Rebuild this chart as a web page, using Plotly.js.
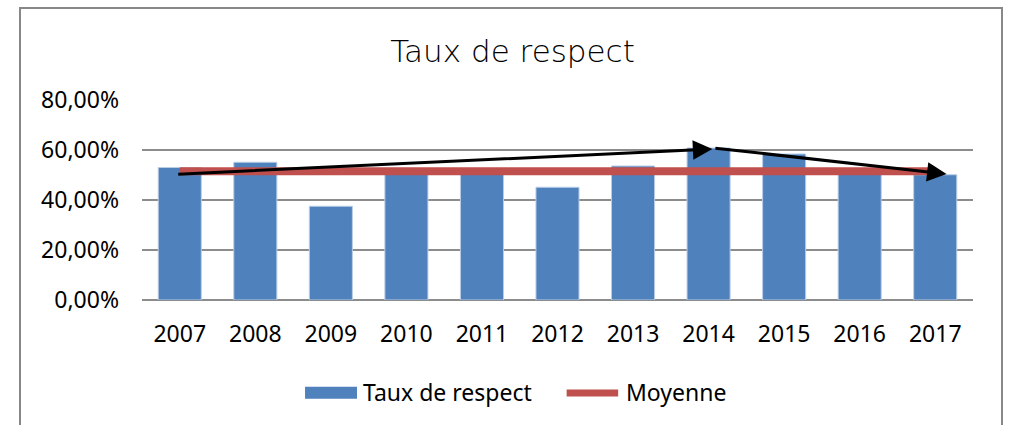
<!DOCTYPE html>
<html>
<head>
<meta charset="utf-8">
<script src="https://cdn.plot.ly/plotly-3.0.1.min.js"></script>
<style>html,body{margin:0;padding:0;background:#fff;}#chart{width:1009px;height:425px;}</style>
</head>
<body>
<div id="chart"></div>
<script>
// ---- data ----
const years = ['2007','2008','2009','2010','2011','2012','2013','2014','2015','2016','2017'];
const tauxRespect = [0.530, 0.551, 0.375, 0.515, 0.515, 0.451, 0.536, 0.608, 0.584, 0.515, 0.501];
const moyenne = [0.515, 0.515, 0.515, 0.515, 0.515, 0.515, 0.515, 0.515, 0.515, 0.515, 0.515];
const yTicks = [0, 0.2, 0.4, 0.6, 0.8];
const seriesNames = ['Taux de respect', 'Moyenne'];
const chartTitle = 'Taux de respect';
// hand-drawn trend arrows: [startIndex, startValue, endIndex, endValue]
const arrowStartsX = [-0.04, 7.07];
const arrowStartsY = [0.503, 0.608];
const arrowEndsX = [7.05, 10.15];
const arrowEndsY = [0.604, 0.504];

const barColor = '#4F81BD';
const lineColor = '#C0504D';
const tickFont = {family: 'Noto Sans, Open Sans, sans-serif', size: 23, color: '#000'};

const traces = [
  {
    type: 'bar', x: years, y: tauxRespect, name: seriesNames[0],
    marker: {color: barColor, line: {color: '#B9CDE5', width: 1}},
    hoverinfo: 'skip', showlegend: false
  },
  {
    type: 'scatter', mode: 'lines', x: years, y: moyenne, name: seriesNames[1],
    line: {color: lineColor, width: 8},
    hoverinfo: 'skip', showlegend: false
  }
];

const annotations = arrowStartsX.map((sx, i) => ({
  x: arrowEndsX[i], y: arrowEndsY[i], xref: 'x', yref: 'y',
  ax: sx, ay: arrowStartsY[i], axref: 'x', ayref: 'y',
  showarrow: true, arrowhead: 2, arrowsize: 1.3, arrowwidth: 3,
  arrowcolor: '#000', standoff: 0, startstandoff: 0, text: ''
}));

// custom legend (Excel-style wide swatches)
annotations.push(
  {xref: 'paper', yref: 'paper', x: 0.2635, y: -0.46, xanchor: 'left', yanchor: 'middle',
   text: seriesNames[0], showarrow: false, font: tickFont},
  {xref: 'paper', yref: 'paper', x: 0.5800, y: -0.46, xanchor: 'left', yanchor: 'middle',
   text: seriesNames[1], showarrow: false, font: tickFont}
);

const layout = {
  width: 1009, height: 425,
  margin: {l: 142, r: 36, t: 100, b: 125},
  paper_bgcolor: '#fff', plot_bgcolor: '#fff',
  title: {
    text: chartTitle, xref: 'container', x: 0.508, xanchor: 'center',
    yref: 'container', y: 0.88, yanchor: 'middle',
    font: {family: 'DejaVu Sans, sans-serif', size: 31, weight: 200, color: '#000'}
  },
  bargap: 0.43,
  showlegend: false,
  xaxis: {
    type: 'category', tickfont: tickFont, showgrid: false, showline: false,
    ticks: '', ticklabelstandoff: 18, fixedrange: true
  },
  yaxis: {
    range: [0, 0.8], tickvals: yTicks, tickformat: '.2%', tickfont: tickFont,
    showgrid: true, gridcolor: '#8C8C8C', gridwidth: 1.5,
    zeroline: true, zerolinecolor: '#8C8C8C', zerolinewidth: 1.5,
    showline: false, ticks: '', ticklabelstandoff: 22, fixedrange: true
  },
  separators: ', ',
  annotations: annotations,
  shapes: [
    {type: 'rect', xref: 'paper', yref: 'paper',
     x0: -0.1468, x1: 1.0349, y0: -0.7, y1: 1.46,
     line: {color: '#888888', width: 2}, fillcolor: 'rgba(0,0,0,0)', layer: 'below'},
    {type: 'rect', xref: 'paper', yref: 'paper',
     x0: 0.1962, x1: 0.2587, y0: -0.4935, y1: -0.4335,
     line: {width: 0}, fillcolor: barColor},
    {type: 'line', xref: 'paper', yref: 'paper',
     x0: 0.5110, x1: 0.5730, y0: -0.465, y1: -0.465,
     line: {color: lineColor, width: 7}}
  ]
};

Plotly.newPlot('chart', traces, layout, {displayModeBar: false, staticPlot: true});
</script>
</body>
</html>
